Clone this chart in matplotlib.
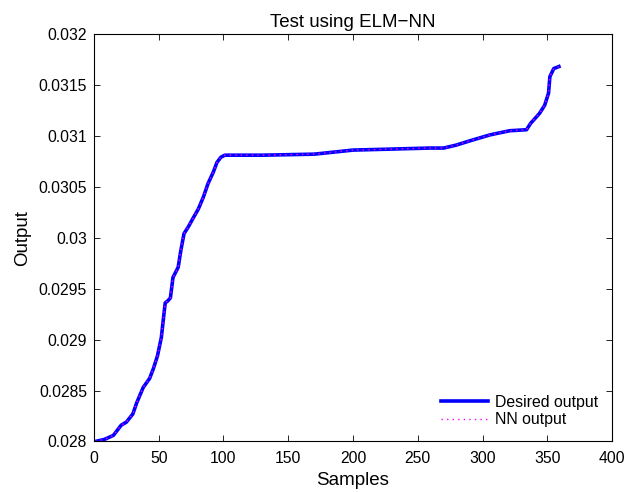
import numpy as np
import matplotlib
matplotlib.use('Agg')
from matplotlib import pyplot as plt

plt.rcParams['font.family'] = ['Liberation Sans', 'DejaVu Sans']

# samples (desired output), NN output overlaps it
samples = [1, 8, 15, 21, 25, 30, 33, 38, 43, 46, 49, 52, 54, 55, 57, 59, 61, 65, 67, 69.5,
           73, 76, 80.5, 84.5, 88, 92, 95, 98, 101, 130, 170, 200, 230, 259, 270, 280,
           290, 306, 321, 334, 337, 344, 348, 351, 352, 355, 359]
desired = [0.02800, 0.02802, 0.02806, 0.02816, 0.02819, 0.02827, 0.02838, 0.02853, 0.02862,
           0.02872, 0.02884, 0.02902, 0.02925, 0.02936, 0.02938, 0.02941, 0.02961, 0.02971,
           0.02987, 0.03004, 0.03011, 0.03018, 0.03028, 0.03040, 0.03053, 0.03064, 0.03074,
           0.03079, 0.03081, 0.03081, 0.03082, 0.03086, 0.03087, 0.03088, 0.03088, 0.03091,
           0.03095, 0.03101, 0.03105, 0.03106, 0.03112, 0.03122, 0.03130, 0.03142, 0.03158,
           0.03166, 0.03168]
nn_out = list(desired)

xticks = [0, 50, 100, 150, 200, 250, 300, 350, 400]
yticks = [0.028, 0.0285, 0.029, 0.0295, 0.03, 0.0305, 0.031, 0.0315, 0.032]
ylabels = ['0.028', '0.0285', '0.029', '0.0295', '0.03', '0.0305', '0.031', '0.0315', '0.032']

fig = plt.figure(figsize=(6.42, 4.92), dpi=100)
ax = fig.add_axes([0.1464, 0.1027, 0.8069, 0.8283])

ax.plot(samples, desired, color='#0000ff', lw=2.6, label='Desired output')
ax.plot(samples, nn_out, color='#ff00ff', lw=1.0, ls=(0, (1, 3)), label='NN output')

ax.set_xlim(0, 400)
ax.set_ylim(0.028, 0.032)
ax.set_xticks(xticks)
ax.set_yticks(yticks)
ax.set_yticklabels(ylabels)
ax.tick_params(direction='in', top=True, right=True, labelsize=11.3, length=4, width=0.6)
ax.tick_params(axis='x', pad=7)
ax.tick_params(axis='y', pad=5)
for s in ax.spines.values():
    s.set_linewidth(0.8)

ax.set_xlabel('Samples', fontsize=13.5, labelpad=4)
ax.set_ylabel('Output', fontsize=13.5, labelpad=5)
ax.set_title('Test using ELM\u2212NN', fontsize=13.5, pad=5)

ax.legend(loc='lower right', frameon=False, fontsize=11.4, handlelength=3.0,
          handletextpad=0.4, labelspacing=0.15, borderaxespad=0.5)

fig.savefig('out.png', dpi=100)
